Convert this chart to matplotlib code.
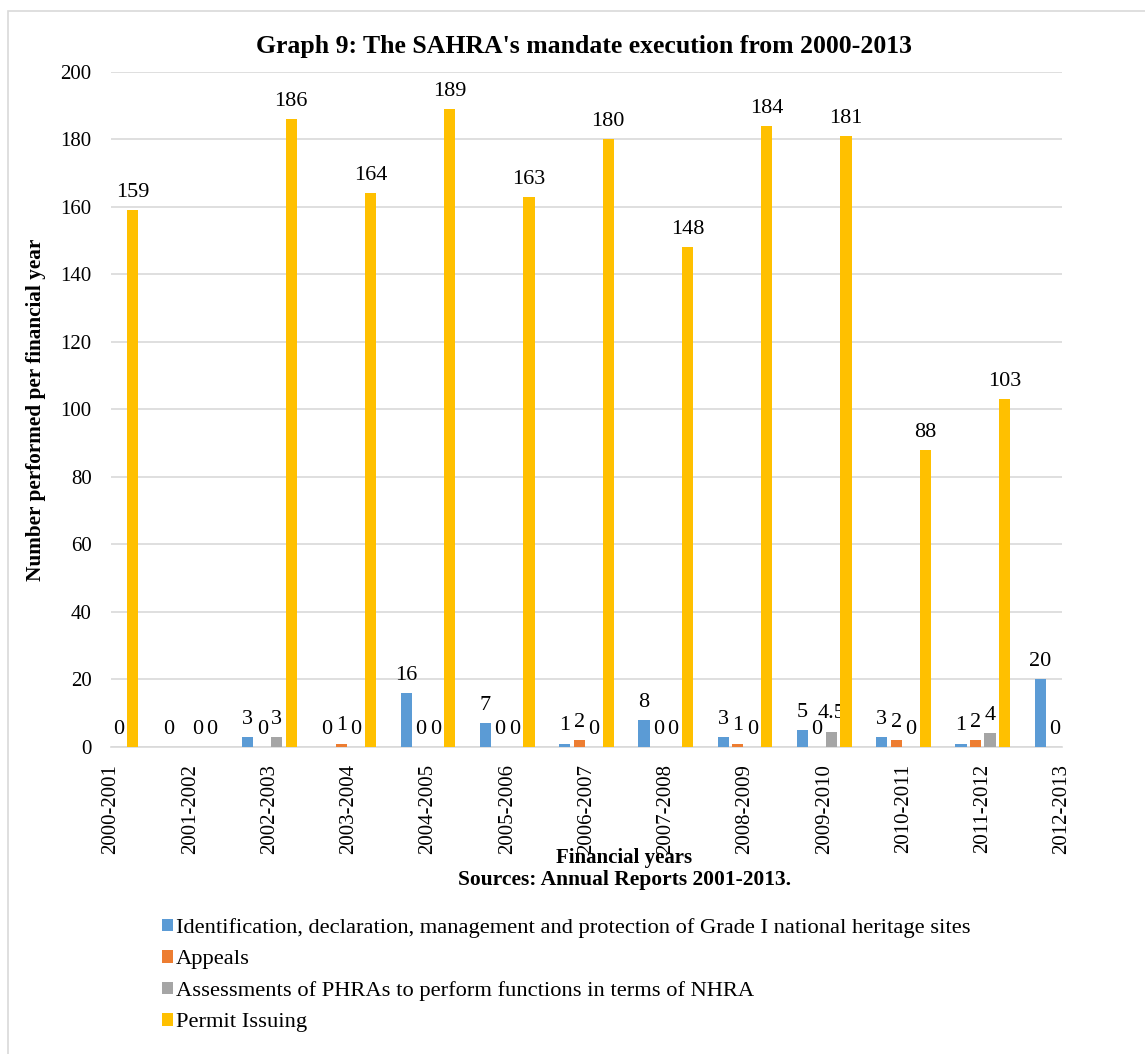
import numpy as np
import matplotlib
matplotlib.use("Agg")
import matplotlib.pyplot as plt
from matplotlib.patches import Rectangle

plt.rcParams['font.family'] = ['Liberation Serif', 'DejaVu Serif']

years = ['2000-2001', '2001-2002', '2002-2003', '2003-2004', '2004-2005',
         '2005-2006', '2006-2007', '2007-2008', '2008-2009', '2009-2010',
         '2010-2011', '2011-2012', '2012-2013']
nan = np.nan
identification = [nan, 0, 3, 0, 16, 7, 1, 8, 3, 5, 3, 1, 20]
appeals = [nan, nan, 0, 1, 0, 0, 2, 0, 1, 0, 2, 2, 0]
assessments = [0, 0, 3, 0, 0, 0, 0, 0, 0, 4.5, 0, 4, nan]
permits = [159, 0, 186, 164, 189, 163, 180, 148, 184, 181, 88, 103, nan]

series = [
    ('Identification, declaration, management and protection of Grade I national heritage sites', identification, '#5B9BD5'),
    ('Appeals', appeals, '#ED7D31'),
    ('Assessments of PHRAs to perform functions in terms of NHRA', assessments, '#A5A5A5'),
    ('Permit Issuing', permits, '#FFC000'),
]

fig = plt.figure(figsize=(11.45, 10.54), dpi=100)
fig.patches.append(Rectangle((8 / 1145, -0.05), 1.2, 1 - 11 / 1054 + 0.05,
                             transform=fig.transFigure, fill=False,
                             edgecolor='#D9D9D9', lw=1.2))

ax = fig.add_axes([0.0969, 0.2913, 0.8306, 0.6404])
x = np.arange(len(years))
w = 0.14
step = 0.183
handles = []
for i, (name, vals, col) in enumerate(series):
    pos = x + (i - 1.5) * step
    b = ax.bar(pos, vals, width=w, color=col, label=name, zorder=3)
    handles.append(b)
    for xp, v in zip(pos, vals):
        # Excel hides points that fall outside the category axis
        if np.isnan(v) or xp < 0 or xp > len(years) - 1:
            continue
        ax.annotate(f'{v:g}', (xp, v), xytext=(0, 6), textcoords='offset points',
                    ha='center', va='bottom', fontsize=16)

ax.set_xlim(0, len(years) - 1)
ax.set_ylim(0, 200)
ax.set_yticks(range(0, 201, 20))
ax.set_xticks(x)
ax.set_xticklabels(years, rotation=90, fontsize=15)
ax.tick_params(axis='y', labelsize=15, length=0, pad=14)
ax.tick_params(axis='x', length=0, pad=12)
ax.grid(axis='y', color='#D9D9D9', lw=1.2, zorder=0)
for s in ['top', 'right', 'left']:
    ax.spines[s].set_visible(False)
ax.spines['bottom'].set_color('#D9D9D9')
ax.spines['bottom'].set_linewidth(1.2)

ax.set_ylabel('Number performed per financial year', fontsize=15.3,
              fontweight='bold', labelpad=10)
fig.text(584 / 1145, 1 - 47 / 1054, "Graph 9: The SAHRA's mandate execution from 2000-2013",
         ha='center', va='center', fontsize=18.5, fontweight='bold')
fig.text(624 / 1145, 1 - 858 / 1054, 'Financial years', ha='center', va='center',
         fontsize=15, fontweight='bold')
fig.text(625 / 1145, 1 - 880 / 1054, 'Sources: Annual Reports 2001-2013.', ha='center',
         va='center', fontsize=15.5, fontweight='bold')

fig.legend(handles=handles, loc='upper left', bbox_to_anchor=(153 / 1145, 1 - 909 / 1054),
           frameon=False, fontsize=16.2, handlelength=0.5, handleheight=0.5,
           handletextpad=0.12, labelspacing=0.53, borderaxespad=0)

fig.savefig('out.png', dpi=100)
